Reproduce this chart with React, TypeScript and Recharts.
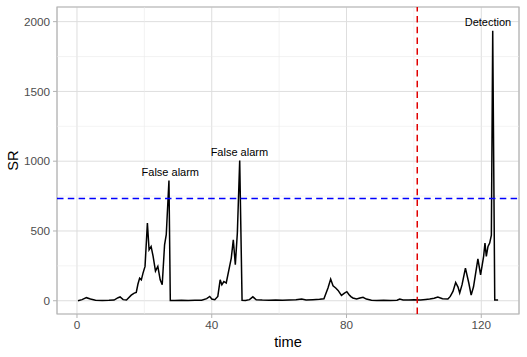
import React from 'react';
import {
  LineChart,
  Line,
  XAxis,
  YAxis,
  CartesianGrid,
  ReferenceLine,
  ReferenceArea,
  ReferenceDot,
} from 'recharts';

// time points and SR values
const time = [
  0.3, 1.5, 2.8, 4.0, 5.5, 7.5, 9.5, 11.0, 12.2, 12.8, 13.7, 14.7, 16.1, 17.0, 17.6, 18.1, 18.6, 19.1, 19.6, 20.2,
  20.9, 21.4, 22.0, 22.6, 23.3, 24.0, 24.7, 25.3, 26.0, 26.5, 27.3, 27.7,
  29, 31, 33, 35, 37, 38.5, 39.4, 40.0, 40.9, 41.8, 42.5, 43.0, 43.6, 44.3, 45.3, 45.8, 46.4, 47.0, 47.6, 48.3, 49.0,
  50, 51.2, 52.2, 53.2, 55, 57, 59, 61, 63, 65, 66.7, 68, 70, 72, 73.3, 74.5, 75.3, 76.0, 76.8, 77.5, 78.5, 79.4,
  80.1, 80.7, 81.3, 81.9, 83.0, 84.0, 84.9, 85.9, 87.4, 89, 91, 93, 95, 95.8, 96.8, 98.5, 100, 102, 103.5, 104.7,
  106, 107.1, 108.5, 110.1,
  110.8, 111.6, 112.4, 113.1, 113.6, 114.3, 115.3, 116.3, 117.0, 117.7, 119.0, 119.8, 120.7, 121.1, 121.5, 122.0,
  122.5, 123.0, 123.4, 124.0, 125.0,
];

const sr = [
  0, 8, 22, 12, 4, 2, 3, 5, 22, 27, 8, 6, 40, 55, 60, 120, 162, 150, 198, 246,
  556, 365, 389, 318, 212, 246, 150, 115, 401, 473, 862, 2,
  2, 3, 2, 3, 4, 15, 31, 12, 7, 31, 150, 115, 138, 127, 246, 306, 437, 258, 485, 1005, 3,
  2, 8, 28, 7, 5, 4, 6, 4, 5, 7, 12, 6, 8, 10, 14, 91, 155, 107, 91, 74, 38, 55,
  65, 45, 30, 20, 12, 20, 25, 12, 3, 2, 3, 2, 4, 12, 6, 5, 7, 6, 9, 12,
  18, 26, 14, 12,
  31, 67, 131, 98, 55, 115, 234, 127, 40, 100, 300, 186, 318, 413, 318, 389,
  413, 470, 1935, 5, 6,
];

const xTicks = [0, 40, 80, 120];
const xMinor = [20, 60, 100];
const yTicks = [0, 500, 1000, 1500, 2000];
const yMinor = [250, 750, 1250, 1750];

const threshold = 733;
const changePoint = 101;

const noteX = [27.7, 48.2, 122];
const noteY = [920, 1065, 2000];
const noteText = ['False alarm', 'False alarm', 'Detection'];

const xDomain = [-5.93, 131.2];
const yDomain = [-95, 2105];

const data = time.map((t, i) => ({ t, sr: sr[i] }));

const font = '"Liberation Sans", Arial, Helvetica, sans-serif';

const App: React.FC = () => {
  return (
    <div style={{ position: 'absolute', left: 0, top: 0, width: 527, height: 357, background: '#fff' }}>
      <LineChart
        width={527}
        height={357}
        data={data}
        margin={{ top: 7, right: 8, left: 0, bottom: 0 }}
        style={{ fontFamily: font }}
      >
        <CartesianGrid stroke="#dedede" strokeWidth={1} />
        {xMinor.map((v) => (
          <ReferenceLine key={'xm' + v} x={v} stroke="#ebebeb" strokeWidth={0.6} />
        ))}
        {yMinor.map((v) => (
          <ReferenceLine key={'ym' + v} y={v} stroke="#ebebeb" strokeWidth={0.6} />
        ))}
        <XAxis
          type="number"
          dataKey="t"
          domain={xDomain}
          ticks={xTicks}
          allowDataOverflow
          height={43}
          axisLine={false}
          tickLine={{ stroke: '#b3b3b3' }}
          tickSize={4}
          tickMargin={3}
          tick={{ fill: '#4d4d4d', fontSize: 11.73 }}
          label={{ value: 'time', position: 'insideBottom', offset: 10.5, fill: '#000', fontSize: 14.67 }}
        />
        <YAxis
          type="number"
          domain={yDomain}
          ticks={yTicks}
          allowDataOverflow
          width={57}
          axisLine={false}
          tickLine={{ stroke: '#b3b3b3' }}
          tickSize={4}
          tickMargin={3}
          tick={{ fill: '#4d4d4d', fontSize: 11.73 }}
          label={{
            value: 'SR',
            angle: -90,
            position: 'insideLeft',
            offset: 13,
            fill: '#000',
            fontSize: 14.67,
            style: { textAnchor: 'middle' },
          }}
        />
        <Line
          type="linear"
          dataKey="sr"
          stroke="#000"
          strokeWidth={1.5}
          dot={false}
          activeDot={false}
          isAnimationActive={false}
        />
        <ReferenceLine y={threshold} stroke="#0000ff" strokeWidth={1.5} strokeDasharray="6.5 4.3" />
        <ReferenceLine x={changePoint} stroke="#e00000" strokeWidth={1.5} strokeDasharray="6.5 4.3" />
        {noteX.map((x, i) => (
          <ReferenceDot
            key={'n' + i}
            x={x}
            y={noteY[i]}
            r={0}
            shape={(p: any) => (
              <text x={p.cx} y={p.cy} dy="0.35em" textAnchor="middle" fontSize={11} fill="#000" fontFamily={font}>
                {noteText[i]}
              </text>
            )}
          />
        ))}
        <ReferenceArea
          x1={xDomain[0]}
          x2={xDomain[1]}
          y1={yDomain[0]}
          y2={yDomain[1]}
          fill="none"
          fillOpacity={0}
          stroke="#b3b3b3"
          strokeWidth={1.2}
        />
      </LineChart>
    </div>
  );
};

export default App;
